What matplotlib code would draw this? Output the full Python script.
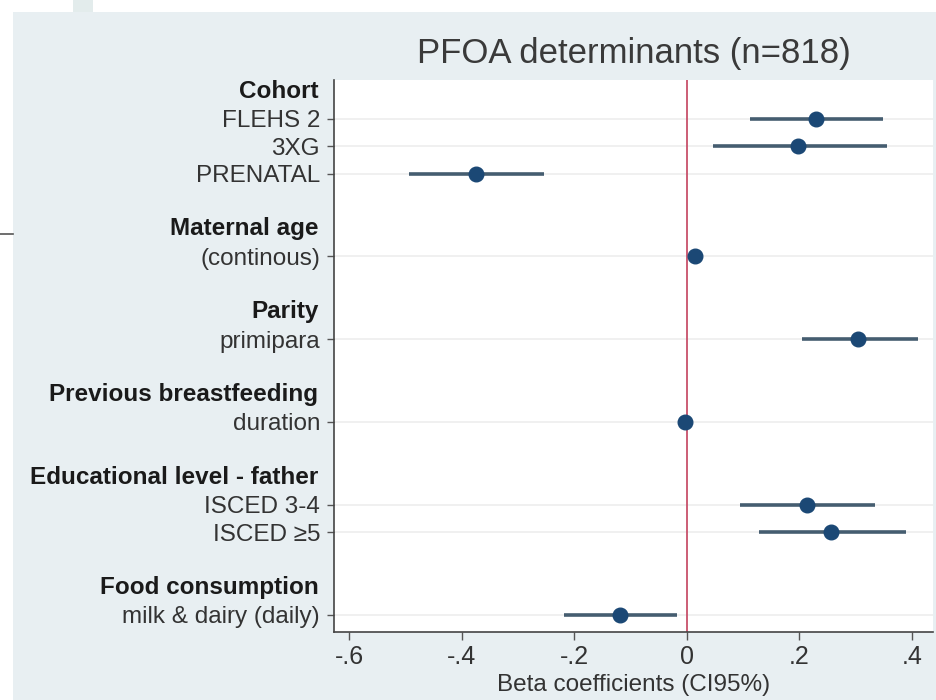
import matplotlib.pyplot as plt
from matplotlib.patches import Rectangle
from matplotlib.lines import Line2D

plt.rcParams['font.family'] = ['Liberation Sans', 'DejaVu Sans']

# row layout (top to bottom): group headers and their items
headers = ['Cohort', 'Maternal age', 'Parity', 'Previous breastfeeding',
           'Educational level - father', 'Food consumption']
header_rows = [0, 5, 8, 11, 14, 18]

labels = ['FLEHS 2', '3XG', 'PRENATAL', '(continous)', 'primipara', 'duration',
          'ISCED 3-4', 'ISCED \u22655', 'milk & dairy (daily)']
rows = [1, 2, 3, 6, 9, 12, 15, 16, 19]

beta = [0.230, 0.198, -0.375, 0.015, 0.305, -0.003, 0.214, 0.257, -0.118]
ci_low = [0.113, 0.046, -0.494, 0.010, 0.205, -0.007, 0.095, 0.129, -0.218]
ci_high = [0.348, 0.355, -0.254, 0.020, 0.410, 0.001, 0.334, 0.389, -0.018]

xticks = [-0.6, -0.4, -0.2, 0, 0.2, 0.4]
xticklabels = ['-.6', '-.4', '-.2', '0', '.2', '.4']

panel = '#e8eff2'
ink = '#333333'

fig = plt.figure(figsize=(9.37, 7.0), dpi=100)
fig.patch.set_facecolor(panel)

# white slide margins around the graph panel
fig.patches.append(Rectangle((0, 0), 13 / 937, 1, transform=fig.transFigure,
                             facecolor='white', edgecolor='none', zorder=-1))
fig.patches.append(Rectangle((0, 1 - 12 / 700), 1, 12 / 700, transform=fig.transFigure,
                             facecolor='white', edgecolor='none', zorder=-1))
fig.patches.append(Rectangle((73 / 937, 1 - 12 / 700), 20 / 937, 12 / 700,
                             transform=fig.transFigure, facecolor='#e3ecec',
                             edgecolor='none', zorder=-1))
fig.lines.append(Line2D([0, 13 / 937], [1 - 234 / 700, 1 - 234 / 700],
                        transform=fig.transFigure, color='#555555', lw=1.2))

ax = fig.add_axes([334 / 937, 1 - 632 / 700, 599 / 937, 552 / 700])
ax.set_facecolor('white')

for r in rows:
    ax.axhline(r, color='#eeeeee', lw=1.2, zorder=0)
ax.axvline(0, color='#c8506a', lw=1.3, zorder=1)

ax.hlines(rows, ci_low, ci_high, color='#455d70', lw=2.6, zorder=2)
ax.plot(beta, rows, 'o', color='#1b4875', ms=10.5, zorder=3)

ax.set_xlim(-0.627, 0.4375)
ax.set_ylim(19.62, -0.4)

ax.set_yticks(rows)
ax.set_yticklabels(labels, fontsize=17.5, color=ink)
ax.set_xticks(xticks)
ax.set_xticklabels(xticklabels, fontsize=18, color=ink)
ax.tick_params(axis='y', length=5, width=1, color='#555555', pad=5)
ax.tick_params(axis='x', length=6, width=1, color='#555555', pad=3)

for h, r in zip(headers, header_rows):
    ax.text(-0.026, r, h, transform=ax.get_yaxis_transform(), ha='right',
            va='center', fontsize=17.5, fontweight='bold', color='#1a1a1a')

for s in ['top', 'right']:
    ax.spines[s].set_visible(False)
for s in ['left', 'bottom']:
    ax.spines[s].set_color('#444444')
    ax.spines[s].set_linewidth(1.2)

ax.set_title('PFOA determinants (n=818)', fontsize=25, color='#3a3a3a', pad=12)
ax.set_xlabel('Beta coefficients (CI95%)', fontsize=17.5, color=ink, labelpad=4)

fig.savefig('out.png', dpi=100, facecolor=fig.get_facecolor())
